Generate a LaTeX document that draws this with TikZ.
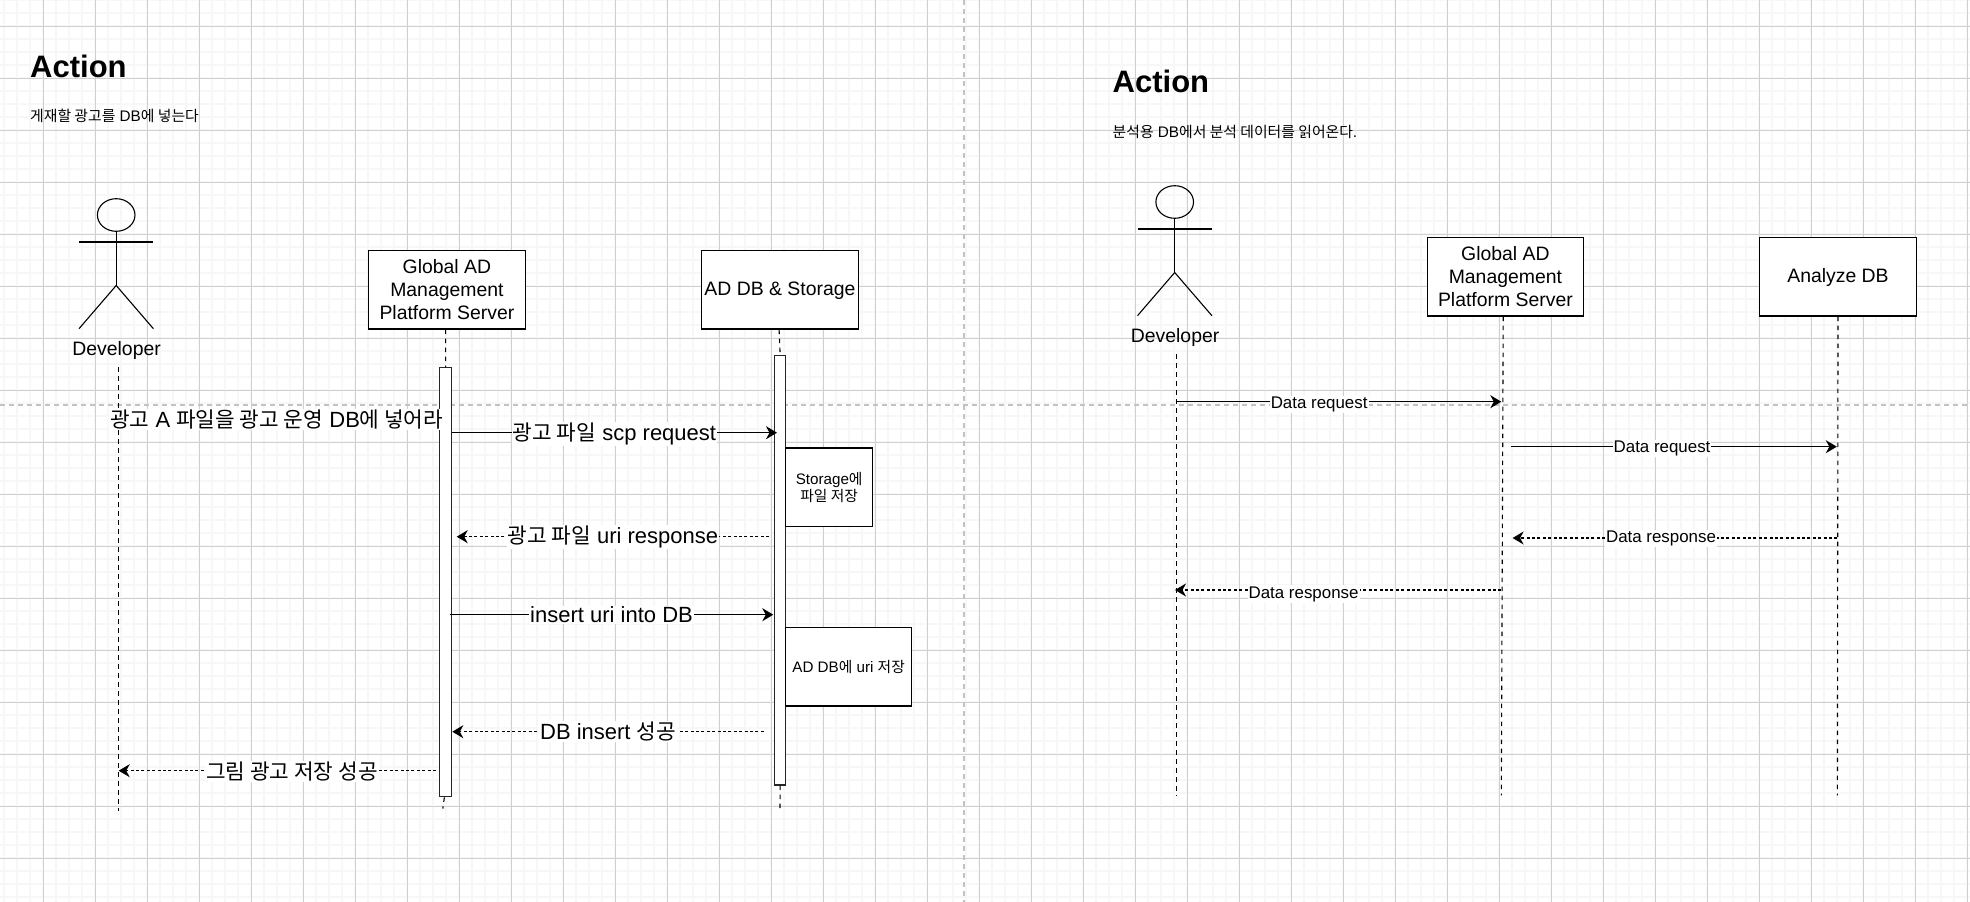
\documentclass[tikz,border=0pt]{standalone}
\usepackage{fontspec}
\setmainfont{Liberation Sans}
\newfontfamily\krfont[Scale=0.97]{Noto Sans CJK KR}
\newcommand{\kr}[1]{{\krfont #1}}
\usetikzlibrary{arrows.meta,positioning,shapes.geometric}
\definecolor{gridmajor}{HTML}{D0D0D0}
\definecolor{gridminor}{HTML}{F7F7F7}
\definecolor{pagebreak}{HTML}{C2C2C2}
\tikzset{
    boxnode/.style={rectangle,draw=black,fill=white,line width=1.2pt,inner sep=0pt,align=center,
        minimum width=156.5pt,minimum height=78.7pt,font=\fontsize{19.4}{23}\selectfont},
    notebox/.style={rectangle,draw=black,fill=white,line width=1.2pt,inner sep=0pt,align=center,
        minimum height=78.5pt,font=\fontsize{15.2}{17.4}\selectfont},
    barnode/.style={rectangle,draw=black!85,fill=white,line width=1.3pt,inner sep=0pt},
    lifeline/.style={line width=1.1pt,dash pattern=on 4.5pt off 4.5pt},
    reqline/.style={line width=1.2pt,-{Stealth[length=11pt,width=13pt,inset=3.5pt]}},
    respline/.style={reqline,dash pattern=on 3pt off 2.4pt},
    msgbig/.style={fill=white,inner sep=1pt,font=\fontsize{22}{26}\selectfont},
    msgsmall/.style={fill=white,inner sep=1pt,font=\fontsize{16.9}{20}\selectfont},
    titlenode/.style={inner sep=0pt,anchor=base west,font=\fontsize{31}{37}\selectfont\bfseries},
    subnode/.style={inner sep=0pt,anchor=west,font=\fontsize{15.3}{18}\selectfont},
    actorlabel/.style={inner sep=0pt,font=\fontsize{19.4}{23}\selectfont},
    stick/.style={line width=1.1pt}
}
\begin{document}
\begin{tikzpicture}[x=1pt,y=-1pt]
    \useasboundingbox (0,0) rectangle (1970,902);
    \fill[white] (0,0) rectangle (1970,902);

    \foreach \x in {4.3,17.3,...,1970} \draw[gridminor,line width=1.7pt] (\x,0) -- (\x,902);
    \foreach \y in {0.3,13.3,...,902} \draw[gridminor,line width=1.7pt] (0,\y) -- (1970,\y);
    \foreach \x in {43.3,95.3,...,1970} \draw[gridmajor,line width=1pt] (\x,0) -- (\x,902);
    \foreach \y in {26.3,78.3,...,902} \draw[gridmajor,line width=1pt] (0,\y) -- (1970,\y);
    \draw[pagebreak,line width=1.6pt,dash pattern=on 5pt off 4pt] (963.7,0) -- (963.7,902);
    \draw[pagebreak,line width=1.6pt,dash pattern=on 5pt off 4pt] (0,404.7) -- (1970,404.7);

    \node[titlenode,name=titleleft] at (30,77) {Action};
    \node[subnode,name=subleft] at (30,115.5) {\kr{게재할 광고를} DB\kr{에 넣는다}};
    \node[titlenode,name=titleright] at (1112.5,92.7) {Action};
    \node[subnode,name=subright] at (1112.5,132) {\kr{분석용} DB\kr{에서 분석 데이터를 읽어온다}.};

    \foreach \name/\cx/\cy in {devleft/116.2/215,devright/1174.7/202} {
        \node[ellipse,draw=black,stick,inner sep=0pt,minimum width=37.6pt,minimum height=32.6pt,name=\name head] at (\cx,\cy) {};
        \coordinate (\name armw) at (\cx-37.2,\cy+27);
        \coordinate (\name arme) at (\cx+37.2,\cy+27);
        \coordinate (\name hip) at (\cx,\cy+70.5);
        \coordinate (\name legw) at (\cx-37.2,\cy+113.7);
        \coordinate (\name lege) at (\cx+37.2,\cy+113.7);
        \node[actorlabel,name=\name label] at (\cx+0.4,\cy+135) {Developer};
        \path[stick] (\name head) edge (\name hip)
                     (\name armw) edge (\name arme)
                     (\name hip) edge (\name legw)
                     (\name hip) edge (\name lege);
    }

    \node[boxnode,name=gadleft] at (446.9,289.7) {Global AD\\Management\\Platform Server};
    \node[boxnode,name=dbleft,right of=gadleft,node distance=333pt] {\rule{0pt}{16.5pt}AD DB \& Storage};
    \node[boxnode,name=gadright] at (1505.4,276.7) {Global AD\\Management\\Platform Server};
    \node[boxnode,name=dbright,right of=gadright,node distance=332.6pt] {\rule{0pt}{16.5pt}Analyze DB};

    \node[barnode,name=barleft,minimum width=11.9pt,minimum height=429pt] at (445.65,582.2) {};
    \node[barnode,name=bardb,minimum width=11.3pt,minimum height=429.3pt] at (780.15,570.35) {};

    \coordinate (devlefttop) at (118.5,367.3);
    \coordinate (devleftend) at (118.5,811);
    \coordinate (barleftend) at (442.8,808.7);
    \coordinate (bardbend) at (780,810);
    \coordinate (devrighttop) at (1176.6,354);
    \coordinate (devrightend) at (1176.6,795.3);
    \coordinate (gadrightend) at (1501.3,795.3);
    \coordinate (dbrightend) at (1837.4,795.3);
    \path[lifeline] (devlefttop) edge (devleftend)
                    ([xshift=-1.3pt]gadleft.south) edge (barleft.north)
                    ([xshift=-1.3pt]barleft.south) edge (barleftend)
                    ([xshift=-0.8pt]dbleft.south) edge (bardb.north)
                    (bardb.south) edge (bardbend)
                    (devrighttop) edge (devrightend)
                    ([xshift=-2.2pt]gadright.south) edge (gadrightend)
                    (dbright.south) edge (dbrightend);

    \node[notebox,name=storenote,minimum width=86.7pt] at (829.15,487.2) {Storage\kr{에}\\\kr{파일 저장}};
    \node[notebox,name=uritnote,minimum width=125.6pt] at (848.6,666.65) {AD DB\kr{에} uri \kr{저장}};

    \node[msgbig,name=startmsg] at (276.7,419.5) {\kr{광고} A \kr{파일을 광고 운영} DB\kr{에 넣어라}};

    \coordinate (ma1) at (452,432.7);
    \coordinate (mb1) at (777,432.7);
    \coordinate (ma2) at (769,536.7);
    \coordinate (mb2) at (456.7,536.7);
    \coordinate (ma3) at (449.8,614.7);
    \coordinate (mb3) at (773.3,614.7);
    \coordinate (ma4) at (763.8,731.7);
    \coordinate (mb4) at (452.3,731.7);
    \coordinate (ma5) at (436,770.7);
    \coordinate (mb5) at (118.7,770.7);
    \path[reqline] (ma1) edge node[msgbig,yshift=-1pt] {\kr{광고 파일} scp request} (mb1)
                   (ma3) edge node[msgbig] {insert uri into DB} (mb3);
    \path[respline] (ma2) edge node[msgbig] {\kr{광고 파일} uri response} (mb2)
                    (ma4) edge node[msgbig] {DB insert \kr{성공}} (mb4)
                    (ma5) edge node[msgbig,pos=.454,yshift=-1pt] {\kr{그림 광고 저장 성공}} (mb5);

    \coordinate (na1) at (1176.6,401.7);
    \coordinate (nb1) at (1501.3,401.7);
    \coordinate (na2) at (1511.4,446.7);
    \coordinate (nb2) at (1836.8,446.7);
    \coordinate (na3) at (1837.4,538);
    \coordinate (nb3) at (1512.6,538);
    \coordinate (na4) at (1501.3,590);
    \coordinate (nb4) at (1175,590);
    \path[reqline] (na1) edge node[msgsmall,pos=.439,yshift=-3pt] {Data request} (nb1)
                   (na2) edge node[msgsmall,pos=.463,yshift=-1.5pt] {Data request} (nb2);
    \path[respline] (na3) edge node[msgsmall,pos=.543,yshift=-0.3pt] {Data response} (nb3)
                    (na4) edge node[msgsmall,pos=.606,yshift=-4pt] {Data response} (nb4);
\end{tikzpicture}
\end{document}
